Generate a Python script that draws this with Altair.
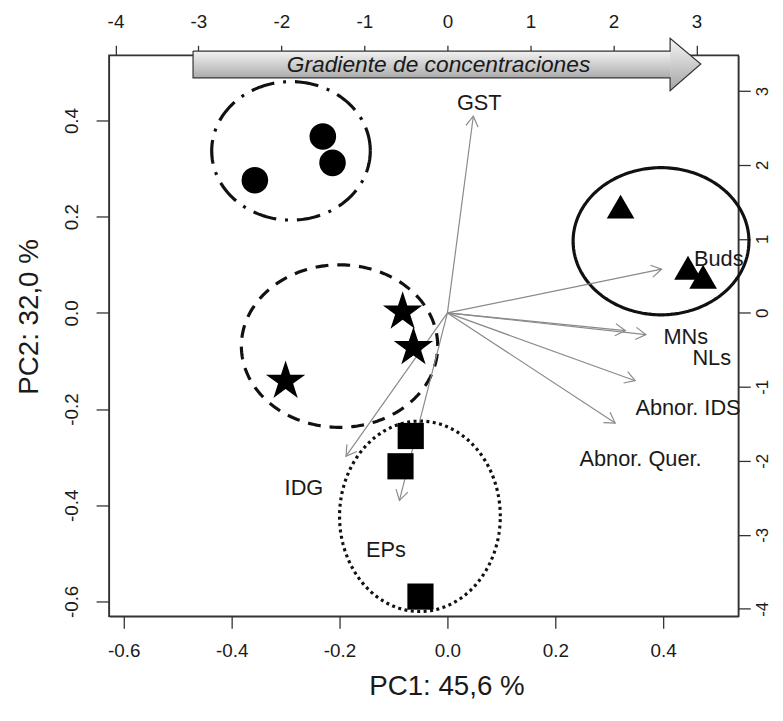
import math
import numpy as np
import pandas as pd
import altair as alt

# ---------------- data ----------------
# plot domain (PC1 / PC2) and secondary-axis scale factor
XMIN, XMAX = -0.6275, 0.5394
YMIN, YMAX = -0.631, 0.536
SEC = 6.5

x_ticks = [-0.6, -0.4, -0.2, 0.0, 0.2, 0.4]
y_ticks = [-0.6, -0.4, -0.2, 0.0, 0.2, 0.4]
top_ticks = [-4, -3, -2, -1, 0, 1, 2, 3]
right_ticks = [-4, -3, -2, -1, 0, 1, 2, 3]

# sample scores, by group
circle_x = [-0.231, -0.213, -0.357]
circle_y = [0.367, 0.312, 0.276]
star_x = [-0.083, -0.063, -0.300]
star_y = [0.002, -0.072, -0.142]
square_x = [-0.068, -0.087, -0.050]
square_y = [-0.256, -0.319, -0.590]
tri_x = [0.321, 0.446, 0.474]
tri_y = [0.221, 0.094, 0.075]

# group ellipses
ell_names = ["dotdash", "dashed", "dotted", "solid"]
ell_cx = [-0.290, -0.200, -0.051, 0.396]
ell_cy = [0.337, -0.069, -0.423, 0.149]
ell_rx = [0.147, 0.182, 0.149, 0.163]
ell_ry = [0.144, 0.169, 0.198, 0.153]

# variable loadings (arrow tips) and their labels
var_names = ["GST", "Buds", "MNs", "NLs", "Abnor. IDS", "Abnor. Quer.", "IDG", "EPs"]
var_x = [0.048, 0.397, 0.368, 0.330, 0.348, 0.311, -0.188, -0.089]
var_y = [0.409, 0.091, -0.045, -0.037, -0.141, -0.229, -0.298, -0.390]
lab_x = [0.059, 0.503, 0.442, 0.490, 0.446, 0.358, -0.266, -0.114]
lab_y = [0.437, 0.112, -0.050, -0.094, -0.197, -0.304, -0.365, -0.493]

# gradient banner arrow (annotation)
banner_text = "Gradiente de concentraciones"
banner_x = [-0.4716, 0.4128, 0.4697]        # start, head base, tip
banner_body_y = [0.4889, 0.5445]             # bottom, top
banner_head_y = [0.4621, 0.5712]             # bottom, top
banner_tip_y = 0.5177
banner_text_xy = [-0.0165, 0.5157]

# ---------------- layout ----------------
W, H = 636, 567
FONT = "Liberation Sans"
INK = "#1a1a1a"
GREY = "#8a8a8a"
px_x = W / (XMAX - XMIN)
px_y = H / (YMAX - YMIN)

STAR = ("M0,-1L0.225,-0.309L0.951,-0.309L0.363,0.118L0.588,0.809L0,0.382"
        "L-0.588,0.809L-0.363,0.118L-0.951,-0.309L-0.225,-0.309Z")
CHEVRON = "M-1,-0.6L0,0L-1,0.6"


def sx():
    return alt.Scale(domain=[XMIN, XMAX], nice=False, zero=False)


def sy():
    return alt.Scale(domain=[YMIN, YMAX], nice=False, zero=False)


def X(f, **kw):
    return alt.X(f, scale=sx(), axis=None, **kw)


def Y(f, **kw):
    return alt.Y(f, scale=sy(), axis=None, **kw)


layers = []

# frame
layers.append(
    alt.Chart(pd.DataFrame({"a": [0]})).mark_rect(
        fillOpacity=0, stroke="#333333", strokeWidth=1.5
    ).encode(x=alt.value(0), x2=alt.value(W), y=alt.value(0), y2=alt.value(H))
)

# bottom / left axes
minus_fix = "replace(format(datum.value, '.1f'), '\u2212', '-')"
layers.append(
    alt.Chart(pd.DataFrame({"x": x_ticks, "y": y_ticks})).mark_point(opacity=0).encode(
        x=alt.X("x:Q", scale=sx(), axis=alt.Axis(
            values=x_ticks, labelExpr=minus_fix, title="PC1: 45,6 %", orient="bottom",
            tickSize=12, labelPadding=14, labelFlush=False, labelOverlap=False,
            titleX=341, titleY=71, titleBaseline="middle", titleAlign="center")),
        y=alt.Y("y:Q", scale=sy(), axis=alt.Axis(
            values=y_ticks, labelExpr=minus_fix, title="PC2: 32,0 %", orient="left",
            tickSize=13, labelPadding=15, labelAngle=270, labelAlign="center",
            labelBaseline="bottom", labelFlush=False, labelOverlap=False,
            titleX=-80, titleY=264, titleAngle=270, titleBaseline="middle",
            titleAlign="center")),
    )
)

int_fix = "replace(format(datum.value, 'd'), '\u2212', '-')"
# top axis
layers.append(
    alt.Chart(pd.DataFrame({"t": top_ticks})).mark_point(opacity=0).encode(
        x=alt.X("t:Q", scale=alt.Scale(domain=[XMIN * SEC, XMAX * SEC], nice=False, zero=False),
                axis=alt.Axis(values=top_ticks, labelExpr=int_fix, orient="top", title=None,
                              tickSize=10, labelPadding=14, labelFlush=False,
                              labelOverlap=False, labelAngle=0)),
        y=alt.value(0),
    )
)
# right axis
layers.append(
    alt.Chart(pd.DataFrame({"r": right_ticks})).mark_point(opacity=0).encode(
        y=alt.Y("r:Q", scale=alt.Scale(domain=[YMIN * SEC, YMAX * SEC], nice=False, zero=False),
                axis=alt.Axis(values=right_ticks, labelExpr=int_fix, orient="right", title=None,
                              tickSize=12, labelPadding=4, labelAngle=270, labelAlign="center",
                              labelBaseline="top", labelFlush=False, labelOverlap=False,
                              labelFontSize=17)),
        x=alt.value(0),
    )
)

# ellipses
rows = []
ts = np.linspace(0, 2 * np.pi, 241)
for name, cx, cy, rx, ry in zip(ell_names, ell_cx, ell_cy, ell_rx, ell_ry):
    for i, t in enumerate(ts):
        rows.append({"name": name, "i": i, "x": cx + rx * math.cos(t), "y": cy + ry * math.sin(t)})
ell_df = pd.DataFrame(rows)
dashes = {"dotdash": [24, 9, 3, 9], "dashed": [13, 9], "dotted": [3, 3.5], "solid": [1, 0]}
for name in ell_names:
    kw = dict(color="#111111", strokeWidth=3.2)
    if name != "solid":
        kw["strokeDash"] = dashes[name]
    layers.append(
        alt.Chart(ell_df).transform_filter(alt.datum.name == name).mark_line(**kw).encode(
            x=X("x:Q"), y=Y("y:Q"), order="i:Q")
    )

# loading arrows
angs = []
for vx, vy in zip(var_x, var_y):
    a = math.degrees(math.atan2(-vy * px_y, vx * px_x)) % 360
    angs.append(a)
var_df = pd.DataFrame({"name": var_names, "x": var_x, "y": var_y, "zero": [0.0] * len(var_x),
                       "ang": angs, "lx": lab_x, "ly": lab_y})
layers.append(
    alt.Chart(var_df).mark_rule(color=GREY, strokeWidth=1.2).encode(
        x=X("zero:Q"), y=Y("zero:Q"), x2="x:Q", y2="y:Q")
)
layers.append(
    alt.Chart(var_df).mark_point(shape=CHEVRON, filled=False, color=GREY, strokeWidth=1.2,
                                 size=420, opacity=1).encode(
        x=X("x:Q"), y=Y("y:Q"), angle=alt.Angle("ang:Q", scale=None))
)

# points
def pts(xs, ys, shape, size):
    return alt.Chart(pd.DataFrame({"x": xs, "y": ys})).mark_point(
        shape=shape, filled=True, size=size, color="#000000", opacity=1).encode(
        x=X("x:Q"), y=Y("y:Q"))


layers.append(pts(circle_x, circle_y, "circle", 720))
layers.append(pts(star_x, star_y, STAR, 1750))
layers.append(pts(square_x, square_y, "square", 700))
layers.append(pts(tri_x, tri_y, "triangle-up", 780))

# variable labels
layers.append(
    alt.Chart(var_df).mark_text(font=FONT, fontSize=22, color=INK).encode(
        x=X("lx:Q"), y=Y("ly:Q"), text="name:N")
)

# banner arrow
grad = alt.LinearGradient(
    gradient="linear",
    stops=[alt.GradientStop(color="#f2f2f2", offset=0), alt.GradientStop(color="#acacac", offset=1)],
    x1=0, x2=0, y1=0, y2=1)
layers.append(
    alt.Chart(pd.DataFrame({"x0": [banner_x[0]], "x1": [banner_x[1]],
                            "y0": [banner_body_y[0]], "y1": [banner_body_y[1]]})).mark_rect(
        fill=grad, strokeWidth=0).encode(x=X("x0:Q"), x2="x1:Q", y=Y("y0:Q"), y2="y1:Q")
)
grad2 = alt.LinearGradient(
    gradient="linear",
    stops=[alt.GradientStop(color="#f5f5f5", offset=0), alt.GradientStop(color="#a5a5a5", offset=1)],
    x1=0, x2=0, y1=0, y2=1)
layers.append(
    alt.Chart(pd.DataFrame({"x": [banner_x[1], banner_x[2]],
                            "y": [banner_head_y[1], banner_tip_y],
                            "y2": [banner_head_y[0], banner_tip_y]})).mark_area(
        fill=grad2, strokeWidth=0, opacity=1).encode(x=X("x:Q"), y=Y("y:Q"), y2="y2:Q")
)
outline_x = [banner_x[0], banner_x[1], banner_x[1], banner_x[2], banner_x[1], banner_x[1],
             banner_x[0], banner_x[0]]
outline_y = [banner_body_y[1], banner_body_y[1], banner_head_y[1], banner_tip_y,
             banner_head_y[0], banner_body_y[0], banner_body_y[0], banner_body_y[1]]
layers.append(
    alt.Chart(pd.DataFrame({"x": outline_x, "y": outline_y, "o": list(range(len(outline_x)))}))
    .mark_line(color="#333333", strokeWidth=1.2).encode(x=X("x:Q"), y=Y("y:Q"), order="o:Q")
)
layers.append(
    alt.Chart(pd.DataFrame({"x": [banner_text_xy[0]], "y": [banner_text_xy[1]], "t": [banner_text]}))
    .mark_text(font=FONT, fontSize=23, fontStyle="italic", color=INK).encode(
        x=X("x:Q"), y=Y("y:Q"), text="t:N")
)

chart = (
    alt.layer(*layers)
    .resolve_scale(x="independent", y="independent")
    .properties(width=W, height=H, autosize=alt.AutoSizeParams(type="none"),
                padding={"left": 102, "top": 44, "right": 37, "bottom": 90})
    .configure_view(strokeOpacity=0)
    .configure_axis(grid=False, labelFont=FONT, labelFontSize=19, labelColor=INK,
                    titleFont=FONT, titleFontSize=28, titleFontWeight="normal", titleColor=INK,
                    tickColor="#333333", domainColor="#333333", tickWidth=1.3, domainWidth=1.3)
)

chart.save("out.html", embed_options={"renderer": "svg", "actions": False})
